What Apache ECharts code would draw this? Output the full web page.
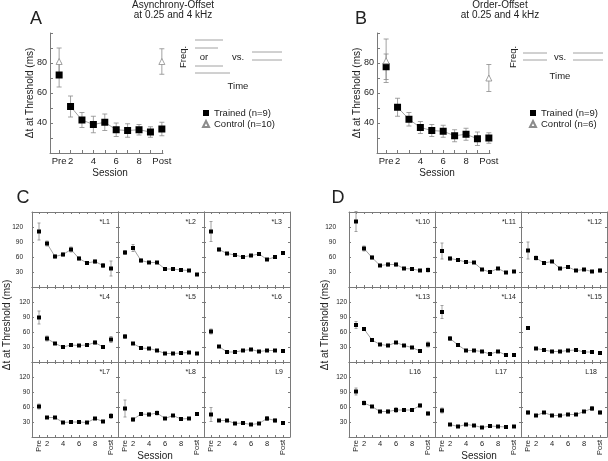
<!DOCTYPE html>
<html><head><meta charset="utf-8">
<script src="https://cdn.jsdelivr.net/npm/echarts@6/dist/echarts.min.js"></script>
<style>html,body{margin:0;padding:0;background:#fff}#c{width:608px;height:461px}</style>
</head><body><div id="c"></div><script>
// ---------- data ----------
const sessions = [1,2,3,4,5,6,7,8,9,10];
const sessionTickLabels = {1:'Pre',2:'2',4:'4',6:'6',8:'8',10:'Post'};
const bigYTicks = [40,60,80];
const smallYTicks = [30,60,90,120];

const aTrained    = [72,51,42,39,40.5,35.5,35,35.5,34,36];
const aTrainedErr = [8,7,5,5.5,5.5,4.5,4.5,3.5,3.5,4.5];
const aControlSessions = [1,10];
const aControl    = [81,81];
const aControlErr = [9,8.5];

const bTrained    = [77.5,50.5,42.5,37,35,34.5,31.5,32.5,29.5,30];
const bTrainedErr = [8.5,6,4.5,4,4,4,4,4,4.5,3.5];
const bControlSessions = [1,10];
const bControl    = [81.5,70];
const bControlErr = [14.5,9];

const L1  = [111,87,61,65,75,57,48,51,43,37];  const L1err  = [17,5,3,3,5,3,3,3,4,15];
const L2  = [69,78,53,49,49,36,36,34,33,25];   const L2err  = [4,7,3,2,2,2,2,2,2,2];
const L3  = [111,75,67,64,60,63,66,55,60,68];  const L3err  = [20,3,2,2,2,2,2,2,2,3];
const L4  = [89,47,37,30,34,33,34,39,30,45];   const L4err  = [13,5,2,2,2,2,2,3,2,6];
const L5  = [51,37,28,27,23,17,17,18,19,17];   const L5err  = [4,2,2,2,2,2,2,2,2,2];
const L6  = [61,31,20,20,23,25,21,23,23,22];   const L6err  = [5,2,2,2,2,2,2,2,2,2];
const L7  = [61,39,39,29,30,30,29,37,31,42];   const L7err  = [5,2,2,2,2,2,2,2,2,5];
const L8  = [57,35,46,45,48,37,43,36,37,46];   const L8err  = [17,3,3,3,4,2,2,2,2,3];
const L9  = [45,33,33,27,28,25,27,37,33,28];   const L9err  = [14,2,2,2,2,2,2,4,3,2];
const L10 = [131,77,59,43,45,45,37,36,33,34];  const L10err = [20,5,3,2,3,3,2,2,2,4];
const L11 = [72,57,54,50,49,35,30,37,29,31];   const L11err = [16,3,3,2,2,2,2,2,2,2];
const L12 = [73,58,48,51,37,40,33,35,31,33];   const L12err = [17,4,3,2,2,2,2,2,2,3];
const L13 = [74,66,44,35,33,39,33,29,22,35];   const L13err = [7,3,2,2,2,2,2,2,2,5];
const L14 = [100,47,34,23,23,21,16,21,14,14];  const L14err = [13,4,2,2,2,2,2,2,2,2];
const L15 = [68,27,24,21,21,23,24,20,20,18];   const L15err = [3,2,2,2,2,2,2,2,2,2];
const L16 = [91,68,61,51,51,54,54,54,63,47];   const L16err = [7,4,2,2,3,5,3,2,3,3];
const L17 = [53,25,21,25,23,19,22,21,20,21];   const L17err = [5,2,2,2,2,2,2,2,2,2];
const L18 = [49,43,49,43,43,45,45,51,57,49];   const L18err = [3,2,2,2,2,2,2,2,4,3];

const listenerLabels = ['*L1','*L2','*L3','*L4','*L5','*L6','*L7','*L8','L9',
                        '*L10','*L11','*L12','*L13','*L14','*L15','L16','L17','L18'];
const listenerValues = [L1,L2,L3,L4,L5,L6,L7,L8,L9,L10,L11,L12,L13,L14,L15,L16,L17,L18];
const listenerErrors = [L1err,L2err,L3err,L4err,L5err,L6err,L7err,L8err,L9err,
                        L10err,L11err,L12err,L13err,L14err,L15err,L16err,L17err,L18err];

// ---------- build ----------
const FONT = '"Liberation Sans", Arial, sans-serif';
const AX = '#7a7a7a';
const TXT = '#222';
const grids=[], xAxes=[], yAxes=[], series=[], graphics=[];

function errRender(cap){
  return function(params, api){
    const x=api.value(0), lo=api.value(1), hi=api.value(2);
    const p1=api.coord([x,lo]), p2=api.coord([x,hi]);
    const st={stroke:'#8c8c8c', lineWidth:0.8};
    return {type:'group', children:[
      {type:'line', shape:{x1:p1[0],y1:p1[1],x2:p2[0],y2:p2[1]}, style:st},
      {type:'line', shape:{x1:p1[0]-cap,y1:p1[1],x2:p1[0]+cap,y2:p1[1]}, style:st},
      {type:'line', shape:{x1:p2[0]-cap,y1:p2[1],x2:p2[0]+cap,y2:p2[1]}, style:st}
    ]};
  };
}
function errSeries(xi, yi, xs, vals, errs, cap){
  return {type:'custom', xAxisIndex:xi, yAxisIndex:yi, renderItem:errRender(cap), silent:true, z:1,
    encode:{x:0, y:[1,2]}, data: xs.map((s,i)=>[s, vals[i]-errs[i], vals[i]+errs[i]])};
}
function lineSeries(xi, yi, vals){
  return {type:'line', xAxisIndex:xi, yAxisIndex:yi, symbol:'none', silent:true, z:2,
    lineStyle:{color:'#8c8c8c', width:0.8},
    data: sessions.slice(1,9).map((s,k)=>[s, vals[k+1]])};
}
function baseAxis(extra){
  return Object.assign({type:'value', splitLine:{show:false},
    axisLine:{show:true, onZero:false, lineStyle:{color:AX, width:1}}}, extra);
}

function bigPanel(left, top, trained, trainedErr, cx, ctrl, ctrlErr, ctrlName){
  const gi=grids.length;
  grids.push({left, top, width:113, height:120, outerBoundsMode:'none', containLabel:false});
  const xi=xAxes.length;
  xAxes.push(baseAxis({gridIndex:gi, min:0.2, max:10.1,
    axisTick:{show:true, inside:true, length:3, customValues:sessions, lineStyle:{color:AX}},
    axisLabel:{show:true, customValues:[1,2,4,6,8,10], formatter:v=>sessionTickLabels[v],
      color:TXT, fontSize:9.5, margin:3, fontFamily:FONT}}));
  const yi=yAxes.length;
  yAxes.push(baseAxis({gridIndex:gi, min:20, max:100, interval:10,
    axisTick:{show:true, inside:true, length:3, lineStyle:{color:AX}},
    axisLabel:{show:true, customValues:bigYTicks, color:TXT, fontSize:9, margin:3, fontFamily:FONT}}));
  series.push(errSeries(xi, yi, sessions, trained, trainedErr, 2.5));
  series.push(errSeries(xi, yi, cx, ctrl, ctrlErr, 2.5));
  series.push(lineSeries(xi, yi, trained));
  series.push({type:'scatter', name:'Trained (n=9)', xAxisIndex:xi, yAxisIndex:yi, symbol:'rect', symbolSize:7,
    itemStyle:{color:'#000', opacity:1}, z:3, data: sessions.map((s,i)=>[s, trained[i]])});
  series.push({type:'scatter', name:ctrlName, xAxisIndex:xi, yAxisIndex:yi, symbol:'triangle', symbolSize:6,
    itemStyle:{color:'#fff', borderColor:'#8c8c8c', borderWidth:0.8, opacity:1}, z:3,
    data: cx.map((s,i)=>[s, ctrl[i]])});
}

function smallPanel(left, top, vals, errs, label, labelGap, showYLabels, yMargin, bottom){
  const W=86, H=75;
  const gi=grids.length;
  grids.push({left, top, width:W, height:H, outerBoundsMode:'none', containLabel:false});
  const tick={show:true, inside:true, length:2, lineStyle:{color:AX}};
  const xi=xAxes.length;
  xAxes.push(baseAxis({gridIndex:gi, position:'bottom', min:0.125, max:10.875,
    axisTick:Object.assign({customValues:sessions}, tick),
    axisLabel:{show:bottom, customValues:[2,4,6,8], color:TXT, fontSize:7.5, margin:3, fontFamily:FONT}}));
  xAxes.push(baseAxis({gridIndex:gi, position:'top', min:0.125, max:10.875,
    axisTick:Object.assign({customValues:sessions}, tick), axisLabel:{show:false}}));
  if (bottom){
    xAxes.push(baseAxis({gridIndex:gi, position:'bottom', min:0.125, max:10.875,
      axisLine:{show:false}, axisTick:{show:false},
      axisLabel:{show:true, customValues:[1,10], rotate:90, formatter:v=>sessionTickLabels[v],
        color:TXT, fontSize:7.5, margin:3, fontFamily:FONT}}));
  }
  const yi=yAxes.length;
  yAxes.push(baseAxis({gridIndex:gi, position:'left', min:0, max:150, interval:30, axisTick:tick,
    axisLabel:{show:showYLabels, customValues:smallYTicks, color:TXT, fontSize:6.5, margin:yMargin, fontFamily:FONT}}));
  yAxes.push(baseAxis({gridIndex:gi, position:'right', min:0, max:150, interval:30, axisTick:tick,
    axisLabel:{show:false}}));
  series.push(errSeries(xi, yi, sessions, vals, errs, 1.5));
  series.push(lineSeries(xi, yi, vals));
  series.push({type:'scatter', xAxisIndex:xi, yAxisIndex:yi, symbol:'rect', symbolSize:4,
    itemStyle:{color:'#000', opacity:1}, z:3, data: sessions.map((s,i)=>[s, vals[i]])});
  graphics.push({type:'text', x:left+W-labelGap, y:top+10,
    style:{text:label, align:'right', verticalAlign:'middle', fontSize:7, fill:TXT, fontFamily:FONT}});
}

bigPanel(50, 33, aTrained, aTrainedErr, aControlSessions, aControl, aControlErr, 'Control (n=10)');
bigPanel(377, 33, bTrained, bTrainedErr, bControlSessions, bControl, bControlErr, 'Control (n=6)');

const cCols=[32,118,204], dCols=[349,435,521], rows=[212,287,362];
for (let r=0;r<3;r++){
  for (let c=0;c<3;c++){
    const k=r*3+c;
    smallPanel(cCols[c], rows[r], listenerValues[k], listenerErrors[k], listenerLabels[k],
      k===8?7:8, c===0, r===0?9:2, r===2);
  }
}
for (let r=0;r<3;r++){
  for (let c=0;c<3;c++){
    const k=9+r*3+c;
    smallPanel(dCols[c], rows[r], listenerValues[k], listenerErrors[k], listenerLabels[k],
      r===2?(c===2?10:14):5, c===0, r===0?13:2, r===2);
  }
}

function txt(x,y,text,size,extra){
  return Object.assign({type:'text', x, y, style:{text, fontSize:size, fill:TXT, fontFamily:FONT,
    align:'center', verticalAlign:'middle'}}, extra||{});
}
function rtxt(x,y,text,size){
  return {type:'text', x, y, rotation:Math.PI/2,
    style:{text, fontSize:size, fill:TXT, fontFamily:FONT, align:'center', verticalAlign:'middle'}};
}
function ln(x1,y1,x2,y2){
  return {type:'line', shape:{x1,y1,x2,y2}, style:{stroke:'#8c8c8c', lineWidth:0.8}};
}
// panel letters
graphics.push(txt(36,19,'A',18), txt(361,19,'B',18), txt(23,198,'C',18), txt(338,198,'D',18));
// titles
graphics.push(txt(173,5,'Asynchrony-Offset',10), txt(173,15,'at 0.25 and 4 kHz',10));
graphics.push(txt(500,5,'Order-Offset',10), txt(500,15,'at 0.25 and 4 kHz',10));
// axis titles
graphics.push(rtxt(30,93,'Δt at Threshold (ms)',10), rtxt(357,93,'Δt at Threshold (ms)',10));
graphics.push(rtxt(7,325,'Δt at Threshold (ms)',10), rtxt(325,325,'Δt at Threshold (ms)',10));
graphics.push(txt(110,173,'Session',10), txt(437,173,'Session',10));
graphics.push(txt(155,456,'Session',10), txt(479,456,'Session',10));
// stimulus schematics
graphics.push(rtxt(183,57,'Freq.',9.5), txt(204,57,'or',9.5), txt(238,57,'vs.',9.5), txt(238,86,'Time',9.5));
graphics.push(ln(195,40,223,40), ln(195,48,218,48), ln(195,66,223,66), ln(195,73,230,73),
  ln(252,52,282,52), ln(252,60,282,60));
graphics.push(rtxt(513,57,'Freq.',9.5), txt(560,57,'vs.',9.5), txt(560,76,'Time',9.5));
graphics.push(ln(523,53,547,53), ln(523,60,547,60), ln(573,53,603,53), ln(573,60,603,60));

const chart = echarts.init(document.getElementById('c'), null, {renderer:'canvas'});
chart.setOption({
  animation:false,
  backgroundColor:'#fff',
  textStyle:{fontFamily:FONT},
  grid:grids, xAxis:xAxes, yAxis:yAxes, series,
  legend:[
    {left:197, top:103, orient:'vertical', itemGap:1, itemWidth:6, itemHeight:6, selectedMode:false,
     data:['Trained (n=9)','Control (n=10)'], textStyle:{fontSize:9.5, color:TXT, fontFamily:FONT}},
    {left:524, top:103, orient:'vertical', itemGap:1, itemWidth:6, itemHeight:6, selectedMode:false,
     data:['Trained (n=9)','Control (n=6)'], textStyle:{fontSize:9.5, color:TXT, fontFamily:FONT}}
  ],
  graphic:graphics
});
</script></body></html>
